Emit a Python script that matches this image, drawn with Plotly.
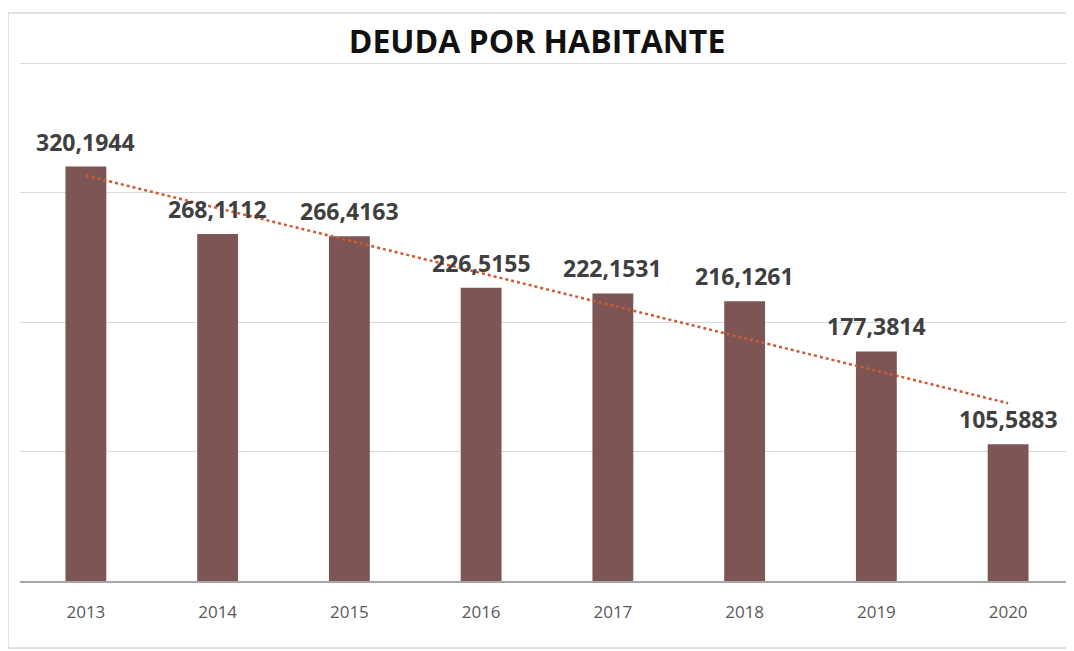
import numpy as np
import plotly.graph_objects as go

# Data
years = ["2013", "2014", "2015", "2016", "2017", "2018", "2019", "2020"]
deuda = [320.1944, 268.1112, 266.4163, 226.5155, 222.1531, 216.1261, 177.3814, 105.5883]
labels = [f"{v:.4f}".replace(".", ",") for v in deuda]

BAR_COLOR = "#7e5555"

# Linear trend line (least squares over the bar values)
idx = np.arange(len(deuda))
slope, intercept = np.polyfit(idx, deuda, 1)
trend = [float(t) for t in slope * idx + intercept]

fig = go.Figure()

fig.add_trace(
    go.Bar(
        x=years,
        y=deuda,
        marker=dict(color=BAR_COLOR, line=dict(width=0)),
        hoverinfo="x+y",
        showlegend=False,
    )
)

fig.add_trace(
    go.Scatter(
        x=years,
        y=trend,
        mode="lines",
        line=dict(color="#cc5a32", width=2.5, dash="dot"),
        hoverinfo="skip",
        showlegend=False,
    )
)

# Value labels above each bar (category index, numeric-looking names
# would otherwise be read as positions)
for i, (v, txt) in enumerate(zip(deuda, labels)):
    fig.add_annotation(
        x=i,
        y=v,
        text=f"<b>{txt}</b>",
        showarrow=False,
        yanchor="bottom",
        yshift=7,
        font=dict(family="Open Sans", size=23, color="#404040"),
    )

# page body adds ~8px offset, so the figure is sized to fit the window
fig.update_layout(
    width=1066,
    height=643,
    paper_bgcolor="white",
    plot_bgcolor="white",
    margin=dict(l=12, r=0, t=54, b=70),
    bargap=0.69,
    title=dict(
        text="<b>DEUDA POR HABITANTE</b>",
        x=(537 - 8) / 1066,
        xanchor="center",
        y=1 - 34 / 643,
        yanchor="middle",
        font=dict(family="Open Sans", size=32, color="#111111"),
    ),
    font=dict(family="Open Sans"),
)

fig.update_xaxes(
    type="category",
    range=[-0.5, 7.5],
    showgrid=False,
    showline=True,
    linecolor="#a6a6a6",
    linewidth=1.5,
    ticks="outside",
    ticklen=15,
    tickcolor="rgba(0,0,0,0)",
    tickfont=dict(size=17, color="#595959"),
)

fig.update_yaxes(
    range=[0, 401],
    dtick=100,
    showgrid=True,
    gridcolor="#d9d9d9",
    gridwidth=1.3,
    zeroline=False,
    showticklabels=False,
)

# Light outer frame of the chart box
fig.add_shape(
    type="rect",
    xref="paper",
    yref="paper",
    x0=-12 / 1054,
    x1=1.2,
    y0=-67 / 519,
    y1=1 + 49 / 519,
    line=dict(color="#d9d9d9", width=1.5),
    layer="below",
)

fig.write_html("out.html")
